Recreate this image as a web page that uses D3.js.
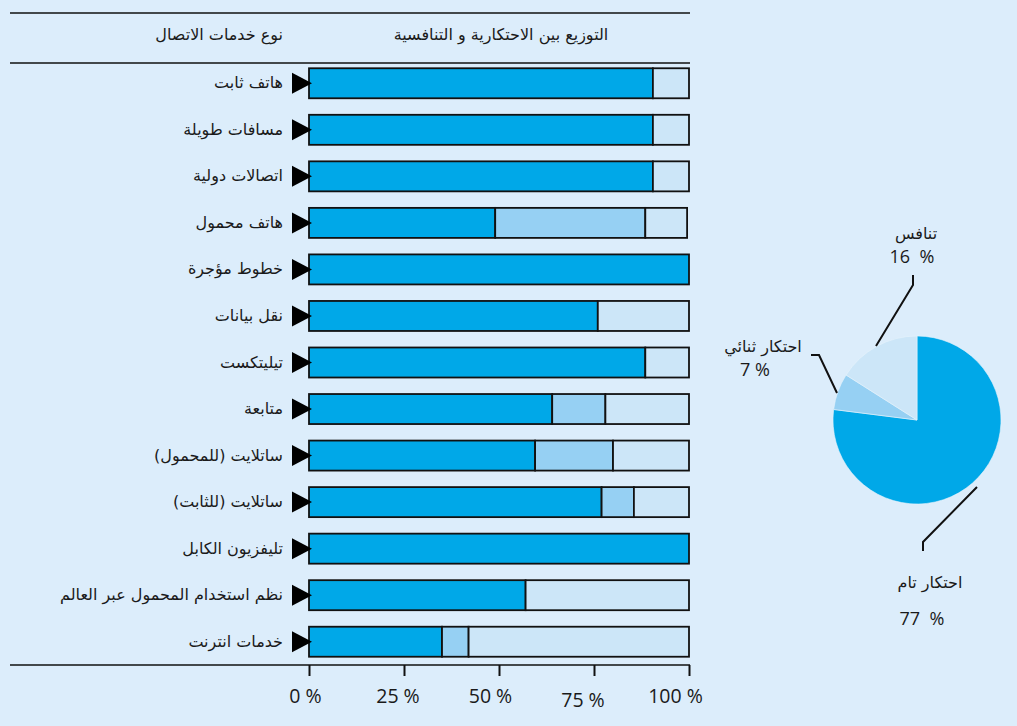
<!DOCTYPE html>
<html>
<head>
<meta charset="utf-8">
<script src="https://cdn.jsdelivr.net/npm/d3@7"></script>
<style>
  body { margin: 0; background: #dcedfb; }
  .ar { font-family: "DejaVu Sans", sans-serif; fill: #1a1a1a; }
  .num { font-family: "Open Sans", "Noto Sans", sans-serif; fill: #1a1a1a; }
</style>
</head>
<body>
<script>
// rows, top to bottom
const categories = [
  "هاتف ثابت",
  "مسافات طويلة",
  "اتصالات دولية",
  "هاتف محمول",
  "خطوط مؤجرة",
  "نقل بيانات",
  "تيليتكست",
  "متابعة",
  "ساتلايت (للمحمول)",
  "ساتلايت (للثابت)",
  "تليفزيون الكابل",
  "نظم استخدام المحمول عبر العالم",
  "خدمات انترنت"
];
// percent of countries: full monopoly / duopoly / competition
const monopoly    = [90.5, 90.5, 90.5, 49, 100, 76, 88.5, 64, 59.5, 77, 100, 57, 35];
const duopoly     = [0, 0, 0, 39.5, 0, 0, 0, 14, 20.5, 8.5, 0, 0, 7];
const competition = [9.5, 9.5, 9.5, 11, 0, 24, 11.5, 22, 20, 14.5, 0, 43, 58];

const xTicks = [0, 25, 50, 75, 100];

const pieNames  = ["احتكار تام", "احتكار ثنائي", "تنافس"];
const pieValues = [77, 7, 16];

const headerLeft = "التوزيع بين الاحتكارية و التنافسية";
const headerRight = "نوع خدمات الاتصال";

const colors = ["#00a8e8", "#96d0f3", "#cce6f8"];

const W = 1017, H = 726;
const svg = d3.select("body").append("svg")
    .attr("width", W).attr("height", H);

svg.append("rect").attr("width", W).attr("height", H).attr("fill", "#dcedfb");

const rows = categories.map((c, i) => ({
  name: c, mono: monopoly[i], duo: duopoly[i], comp: competition[i]
}));

let x = d3.scaleLinear().domain([0, 100]).range([309, 689]);
let y = d3.scaleBand()
    .domain(categories)
    .range([60, 665])
    .paddingInner(0.355)
    .paddingOuter(0.1775);

// rules
[13, 63, 665].forEach(yy => {
  svg.append("line")
      .attr("x1", 10).attr("x2", 690)
      .attr("y1", yy).attr("y2", yy)
      .attr("stroke", "#111").attr("stroke-width", 1.6);
});

// headers
svg.append("text").attr("class", "ar")
    .attr("x", 501).attr("y", 40)
    .attr("text-anchor", "middle")
    .attr("direction", "rtl")
    .style("font-size", "16px")
    .text(headerLeft);
svg.append("text").attr("class", "ar")
    .attr("x", 283).attr("y", 40)
    .attr("text-anchor", "start")
    .attr("direction", "rtl")
    .style("font-size", "16px")
    .text(headerRight);

// stacked bars
let stack = d3.stack().keys(["mono", "duo", "comp"]);
let series = stack(rows);

svg.append("g")
  .selectAll("g")
  .data(series)
  .enter().append("g")
    .attr("fill", (d, i) => colors[i])
  .selectAll("rect")
  .data(d => d.filter(p => p[1] > p[0]))
  .enter().append("rect")
    .attr("x", d => x(d[0]))
    .attr("y", d => y(d.data.name))
    .attr("width", d => x(d[1]) - x(d[0]))
    .attr("height", y.bandwidth())
    .attr("stroke", "#111")
    .attr("stroke-width", 1.8);

// row markers + labels
let rowG = svg.append("g")
  .selectAll("g")
  .data(rows)
  .enter().append("g")
    .attr("transform", d => `translate(0,${y(d.name) + y.bandwidth() / 2})`);

rowG.append("path")
    .attr("d", "M292,-10.5 L312,0 L292,10.5 Z")
    .attr("fill", "#000");

rowG.append("text").attr("class", "ar")
    .attr("x", 283).attr("y", 5)
    .attr("text-anchor", "start")
    .attr("direction", "rtl")
    .style("font-size", "16px")
    .text(d => d.name);

// x axis
let axis = d3.axisBottom(x).tickValues(xTicks).tickSize(11).tickFormat(d => d + " %");
let axG = svg.append("g")
    .attr("transform", "translate(0,665)")
    .call(axis);
axG.select(".domain").remove();
axG.selectAll(".tick line").attr("stroke", "#111").attr("stroke-width", 2);
axG.selectAll(".tick text")
    .attr("class", "num")
    .attr("y", (d, i) => i === 3 ? 42 : 38)
    .attr("dy", 0)
    .attr("dx", (d, i) => -(4 + i * 2.5))
    .style("font-size", "19.5px");

// pie
const cx = 917, cy = 420, r = 84;
let pie = d3.pie().sort(null).value(d => d);
let arc = d3.arc().innerRadius(0).outerRadius(r);
let pieG = svg.append("g").attr("transform", `translate(${cx},${cy})`);
pieG.selectAll("path")
  .data(pie(pieValues))
  .enter().append("path")
    .attr("d", arc)
    .attr("fill", (d, i) => colors[i])
    .attr("stroke", "#e6f3fc")
    .attr("stroke-width", 0.6);

// leader lines
const leaders = [
  [[977, 487], [923, 542], [923, 551]],
  [[837, 393], [819, 355], [811, 355]],
  [[876, 346], [913, 285], [913, 275]]
];
svg.append("g").selectAll("path")
  .data(leaders)
  .enter().append("path")
    .attr("d", d3.line())
    .attr("fill", "none")
    .attr("stroke", "#111")
    .attr("stroke-width", 2);

const pieLabelPos = [
  {nx: 930, ny: 588, vx: 922, vy: 625},
  {nx: 763, ny: 352, vx: 755, vy: 376},
  {nx: 916, ny: 239, vx: 912, vy: 263}
];
pieNames.forEach((n, i) => {
  let p = pieLabelPos[i];
  svg.append("text").attr("class", "ar")
      .attr("x", p.nx).attr("y", p.ny)
      .attr("text-anchor", "middle")
      .attr("direction", "rtl")
      .style("font-size", "16px")
      .text(n);
  svg.append("text").attr("class", "num")
      .attr("x", p.vx).attr("y", p.vy)
      .attr("text-anchor", "middle")
      .style("font-size", "18px")
      .text(pieValues[i] + (i === 1 ? " %" : "\u00a0\u00a0%"));
});
</script>
</body>
</html>
